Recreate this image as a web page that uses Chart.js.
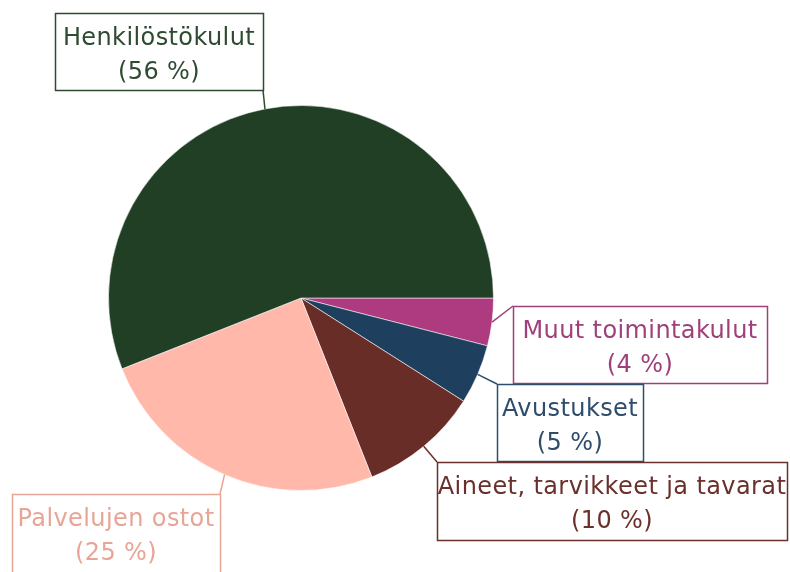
<!DOCTYPE html>
<html>
<head>
<meta charset="utf-8">
<script src="https://cdn.jsdelivr.net/npm/chart.js@4"></script>
<style>
  html, body { margin: 0; padding: 0; background: #fff; }
  #wrap { width: 790px; height: 572px; }
</style>
</head>
<body>
<div id="wrap"><canvas id="chart" width="790" height="572"></canvas></div>
<script>
// tiedot (myötäpäivään klo 3:sta alkaen)
const categories = ["Muut toimintakulut", "Avustukset", "Aineet, tarvikkeet ja tavarat", "Palvelujen ostot", "Henkilöstökulut"];
const shares = [4, 5, 10, 25, 56];
const sliceColors = ["#AE3A7F", "#1F3F5E", "#692D28", "#FFB8A9", "#213F25"];
const labelColors = ["#A0407A", "#2E4C6C", "#6A302B", "#E8A596", "#2E4A30"];

// laatikoiden paikat: [x, y, w, h, kulma johon viiva menee]
const boxes = [
  [513, 306, 254, 77, "tl"],
  [497, 384, 146, 77, "tl"],
  [437, 462, 350, 78, "tl"],
  [12, 494, 208, 90, "tr"],
  [55, 13, 208, 77, "br"],
];

const labelPlugin = {
  id: "boxLabels",
  afterDraw(chart) {
    const ctx = chart.ctx;
    const meta = chart.getDatasetMeta(0);
    ctx.save();
    ctx.font = "24px 'DejaVu Sans'";
    ctx.letterSpacing = "0.4px";
    ctx.textAlign = "center";
    ctx.textBaseline = "alphabetic";
    meta.data.forEach((arc, i) => {
      const p = arc.getProps(["x", "y", "startAngle", "endAngle", "outerRadius"], true);
      const mid = (p.startAngle + p.endAngle) / 2;
      const sx = p.x + Math.cos(mid) * p.outerRadius;
      const sy = p.y + Math.sin(mid) * p.outerRadius;
      const [bx, by, bw, bh, corner] = boxes[i];
      const ex = corner.includes("r") ? bx + bw : bx;
      const ey = corner.includes("b") ? by + bh : by;
      ctx.strokeStyle = labelColors[i];
      ctx.lineWidth = 1.5;
      ctx.beginPath();
      ctx.moveTo(sx, sy);
      ctx.lineTo(ex, ey);
      ctx.stroke();
      ctx.fillStyle = "#fff";
      ctx.fillRect(bx, by, bw, bh);
      ctx.strokeRect(bx + 0.5, by + 0.5, bw, bh);
      ctx.fillStyle = labelColors[i];
      ctx.fillText(categories[i], bx + bw / 2, by + 32);
      ctx.fillText("(" + shares[i] + " %)", bx + bw / 2, by + 66);
    });
    ctx.restore();
  }
};

new Chart(document.getElementById("chart"), {
  type: "pie",
  data: {
    labels: categories,
    datasets: [{
      data: shares,
      backgroundColor: sliceColors,
      borderColor: "rgba(255,255,255,0.55)",
      borderWidth: 1,
    }]
  },
  options: {
    responsive: false,
    animation: false,
    rotation: 90,
    layout: { padding: { top: 105, bottom: 81, left: 108, right: 296 } },
    plugins: {
      legend: { display: false },
      tooltip: { enabled: false },
    }
  },
  plugins: [labelPlugin]
});
</script>
</body>
</html>
